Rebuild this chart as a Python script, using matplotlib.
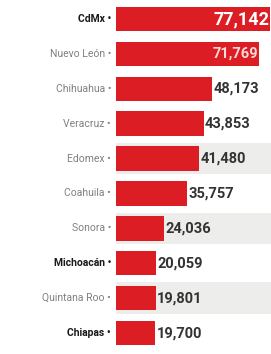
import matplotlib
matplotlib.use("Agg")
import matplotlib.pyplot as plt

estados = ["CdMx", "Nuevo León", "Chihuahua", "Veracruz", "Edomex",
           "Coahuila", "Sonora", "Michoacán", "Quintana Roo", "Chiapas"]
valores = [77142, 71769, 48173, 43853, 41480, 35757, 24036, 20059, 19801, 19700]
negritas = ["CdMx", "Michoacán", "Chiapas"]
filas_grises = ["Edomex", "Sonora", "Quintana Roo"]

plt.rcParams["font.family"] = ["Roboto", "DejaVu Sans"]

fig = plt.figure(figsize=(2.71, 3.54), dpi=100)
ax = fig.add_axes([116 / 271, 0, 1 - 116 / 271, 1])

rojo = "#dc1d24"
ys = list(range(len(estados)))

for e, y in zip(estados, ys):
    if e in filas_grises:
        ax.axhspan(y - 0.45, y + 0.45, color="#ededeb", lw=0, zorder=0)

ax.barh(ys, valores, height=0.7, color=rojo, zorder=2)

for e, v, y in zip(estados, valores, ys):
    txt = f"{v:,}"
    if e == "CdMx":
        ax.text(v - 600, y, txt, ha="right", va="center", color="white",
                fontsize=13, fontweight="bold", zorder=3)
    elif e == "Nuevo León":
        ax.text(v - 600, y, txt, ha="right", va="center", color="#f7d9d9",
                fontsize=10.5, fontweight="bold", zorder=3)
    else:
        ax.text(v + 700, y, txt, ha="left", va="center", color="#333333",
                fontsize=10.5, fontweight="bold", zorder=3)
    bold = e in negritas
    ax.text(-2500, y, e + " •", ha="right", va="center",
            color="#1a1a1a" if bold else "#808080",
            fontsize=7.5, fontweight="bold" if bold else "normal",
            clip_on=False)

ax.set_xlim(0, 77600)
ax.set_ylim(9.6, -0.545)
ax.axis("off")

fig.savefig("out.png", dpi=100, facecolor="white")
